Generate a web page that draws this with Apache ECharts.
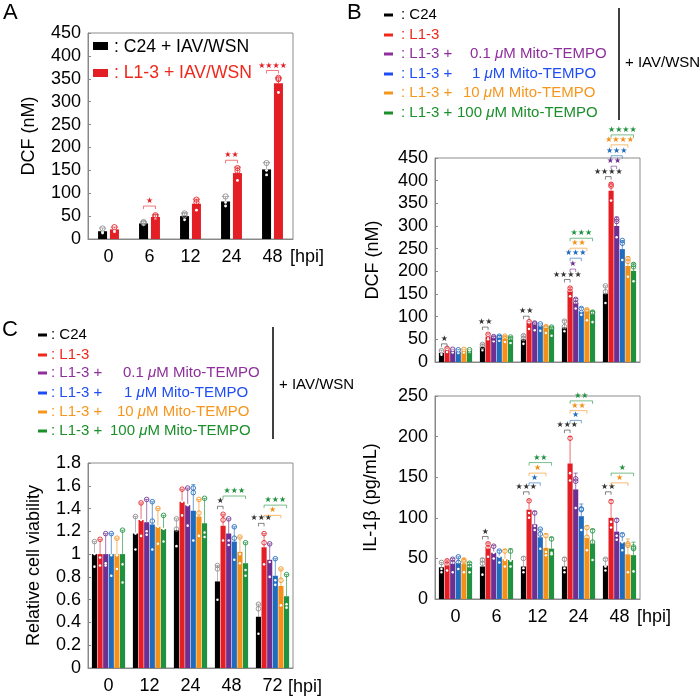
<!DOCTYPE html>
<html lang="en">
<head>
<meta charset="UTF-8">
<title>DCF / IL-1β / viability</title>
<style>
  *{margin:0;padding:0;}
  #main{width:700px;height:697px;background:#fff;}
</style>
<script src="https://cdn.jsdelivr.net/npm/echarts/dist/echarts.min.js"></script>
</head>
<body>
<div id="main"></div>
<script>
// categories
var hpiAB = ['0', '6', '12', '24', '48'];
var hpiC = ['0', '12', '24', '48', '72'];

var colA = ['#000000', '#e41e25'];
var col6 = ['#000000', '#e41e25', '#6d2f91', '#1f6cbf', '#f39019', '#1f923f'];
var txt6 = ['#000000', '#f0281c', '#8e2f9c', '#1f4df5', '#f7961d', '#1a8f2a'];

// panel A : DCF (nM), rows = C24, L1-3
var aMean = [[17, 34, 50, 82, 152], [21, 48, 77, 144, 340]];
var aTop = [[24, 38, 57, 93, 167], [26, 53, 87, 157, 352]];
var aReps = [
  [[13, 16, 23], [31, 35, 37], [42, 52, 56], [72, 80, 93], [140, 150, 166]],
  [[16, 20, 26], [45, 49, 52], [63, 80, 86], [128, 149, 155], [320, 349, 352]]
];
// [hpi index, from group, to group, bracket height, stars, colour index]
var aSig = [[1, 0, 1, 72, 1, 1], [3, 0, 1, 172, 2, 1], [4, 0, 1, 368, 4, 1]];

// panel B top : DCF (nM), rows = C24, L1-3, +0.1, +1, +10, +100 uM Mito-TEMPO
var dcfMean = [
  [20, 33, 50, 76, 151],
  [26, 56, 86, 155, 378],
  [25, 52, 82, 129, 300],
  [23, 53, 80, 112, 249],
  [24, 51, 75, 111, 212],
  [25, 49, 72, 105, 201]
];
var dcfTop = [
  [26, 40, 60, 92, 168],
  [31, 62, 90, 165, 395],
  [28, 56, 86, 140, 320],
  [27, 58, 84, 120, 268],
  [28, 58, 78, 117, 232],
  [27, 56, 76, 112, 218]
];
var dcfReps = [
  [[16, 20, 25], [26, 34, 39], [40, 52, 58], [68, 78, 90], [130, 155, 168]],
  [[22, 26, 30], [50, 56, 61], [73, 86, 89], [145, 156, 163], [356, 388, 392]],
  [[21, 25, 28], [46, 53, 56], [70, 84, 86], [118, 130, 138], [275, 310, 315]],
  [[20, 23, 27], [47, 54, 57], [69, 80, 84], [104, 112, 118], [225, 262, 268]],
  [[21, 24, 28], [44, 52, 57], [64, 76, 78], [92, 112, 115], [188, 222, 228]],
  [[22, 25, 27], [42, 50, 55], [58, 74, 77], [88, 108, 110], [178, 210, 215]]
];
var dcfSig = [
  [0, 0, 1, 40, 1, 0], [1, 0, 1, 77, 2, 0], [2, 0, 1, 101, 2, 0],
  [3, 0, 1, 182, 4, 0], [3, 1, 2, 205, 1, 2], [3, 1, 3, 229, 3, 3], [3, 1, 4, 251, 2, 4], [3, 1, 5, 273, 3, 5],
  [4, 0, 1, 409, 4, 0], [4, 1, 2, 432, 2, 2], [4, 1, 3, 455, 3, 3], [4, 1, 4, 479, 4, 4], [4, 1, 5, 501, 4, 5]
];

// panel B bottom : IL-1β (pg/mL)
var ilMean = [
  [39, 40, 40, 40, 41],
  [41, 62, 110, 167, 100],
  [43, 57, 92, 135, 83],
  [44, 52, 76, 102, 70],
  [43, 49, 63, 75, 55],
  [39, 48, 62, 68, 54]
];
var ilTop = [
  [45, 50, 52, 51, 50],
  [48, 69, 122, 200, 122],
  [50, 66, 108, 155, 99],
  [52, 60, 86, 117, 81],
  [50, 61, 80, 90, 74],
  [45, 62, 76, 86, 70]
];
var ilReps = [
  [[33, 37, 45], [30, 44, 48], [33, 38, 50], [33, 38, 49], [35, 40, 49]],
  [[35, 43, 47], [52, 63, 68], [100, 106, 121], [146, 155, 198], [88, 95, 120]],
  [[33, 45, 49], [50, 57, 65], [85, 90, 106], [112, 145, 148], [73, 78, 97]],
  [[37, 45, 52], [45, 52, 59], [62, 80, 86], [85, 110, 111], [60, 70, 79]],
  [[33, 46, 48], [40, 48, 59], [54, 58, 78], [60, 76, 88], [33, 66, 68]],
  [[33, 40, 44], [40, 47, 59], [55, 57, 74], [48, 70, 84], [34, 62, 64]]
];
var ilSig = [
  [1, 0, 1, 77, 1, 0],
  [2, 0, 1, 132, 3, 0], [2, 1, 3, 143, 1, 3], [2, 1, 4, 155, 1, 4], [2, 1, 5, 168, 2, 5],
  [3, 0, 1, 208, 3, 0], [3, 1, 3, 220, 1, 3], [3, 1, 4, 232, 2, 4], [3, 1, 5, 244, 2, 5],
  [4, 0, 1, 132, 2, 0], [4, 1, 4, 143, 1, 4], [4, 1, 5, 155, 1, 5]
];

// panel C : relative cell viability
var cvMean = [
  [1.00, 1.18, 1.21, 0.76, 0.45],
  [1.00, 1.30, 1.46, 1.25, 1.06],
  [1.00, 1.28, 1.43, 1.18, 0.95],
  [1.00, 1.26, 1.38, 1.11, 0.81],
  [1.00, 1.24, 1.33, 1.02, 0.72],
  [1.00, 1.22, 1.27, 0.92, 0.63]
];
var cvTop = [
  [1.11, 1.33, 1.31, 0.90, 0.56],
  [1.13, 1.45, 1.57, 1.35, 1.18],
  [1.18, 1.48, 1.58, 1.31, 1.09],
  [1.18, 1.46, 1.61, 1.24, 0.96],
  [1.14, 1.40, 1.48, 1.15, 0.87],
  [1.21, 1.34, 1.49, 1.10, 0.82]
];
var cvReps = [
  [[0.89, 1.00, 1.11], [1.04, 1.18, 1.33], [1.07, 1.22, 1.31], [0.60, 0.87, 0.90], [0.30, 0.52, 0.56]],
  [[0.90, 0.97, 1.13], [1.16, 1.30, 1.45], [1.34, 1.46, 1.57], [1.12, 1.30, 1.35], [0.91, 1.10, 1.18]],
  [[0.90, 0.92, 1.18], [1.17, 1.20, 1.48], [1.25, 1.43, 1.58], [1.08, 1.12, 1.31], [0.80, 0.93, 1.09]],
  [[0.81, 0.99, 1.18], [1.04, 1.29, 1.46], [1.12, 1.54, 1.58], [0.95, 1.14, 1.24], [0.73, 0.77, 0.96]],
  [[0.87, 0.99, 1.14], [1.09, 1.24, 1.40], [1.16, 1.36, 1.48], [0.92, 1.00, 1.15], [0.55, 0.77, 0.87]],
  [[0.75, 0.91, 1.21], [1.11, 1.22, 1.34], [1.15, 1.19, 1.49], [0.81, 0.86, 1.10], [0.53, 0.56, 0.82]]
];
var cvSig = [
  [3, 0, 1, 1.42, 1, 0], [3, 1, 5, 1.51, 3, 5],
  [4, 0, 1, 1.27, 3, 0], [4, 1, 4, 1.34, 1, 4], [4, 1, 5, 1.43, 3, 5]
];

// legend text
var legendMain = [': C24', ': L1-3', ': L1-3 +', ': L1-3 +', ': L1-3 +', ': L1-3 +'];
var legendDose = ['', '', '0.1', '1', '10', '100'];

var FONT = 'Liberation Sans';
var chart = echarts.init(document.getElementById('main'));

function barItem(n, s, fw, fg, color) {
  return function (params, api) {
    var cat = api.value(0);
    var base = api.coord([cat, 0]);
    var band = api.size([1, 0])[0];
    var w = band * fw, step = band * (fw + fg);
    var x = base[0] + (s - (n - 1) / 2) * step;
    var mean = api.value(1);
    var yMean = api.coord([cat, mean])[1];
    var yTop = api.coord([cat, api.value(2)])[1];
    var cap = w * 0.4;
    var lineCol = s === 0 ? '#8a8a8a' : color;
    var kids = [
      {type: 'line', shape: {x1: x, y1: yMean, x2: x, y2: yTop}, style: {stroke: lineCol, lineWidth: 1, opacity: 0.65}},
      {type: 'line', shape: {x1: x - cap, y1: yTop, x2: x + cap, y2: yTop}, style: {stroke: lineCol, lineWidth: 1, opacity: 0.65}},
      {type: 'rect', shape: {x: x - w / 2, y: yMean, width: w, height: base[1] - yMean}, style: {fill: color}}
    ];
    var r = Math.min(2.6, w * 0.45);
    for (var k = 3; k < 6; k++) {
      var v = api.value(k);
      var py = api.coord([cat, v])[1];
      if (v > mean) {
        kids.push({type: 'circle', shape: {cx: x, cy: py, r: r}, style: {fill: 'none', stroke: lineCol, lineWidth: 1, opacity: 0.85}});
      } else {
        kids.push({type: 'circle', shape: {cx: x, cy: py, r: r * 0.55}, style: {fill: '#ffffff'}});
      }
    }
    return {type: 'group', children: kids};
  };
}

function sigItem(n, fw, fg, colors) {
  return function (params, api) {
    var cat = api.value(0);
    var c0 = api.coord([cat, 0])[0];
    var band = api.size([1, 0])[0];
    var step = band * (fw + fg);
    var xa = c0 + (api.value(1) - (n - 1) / 2) * step;
    var xb = c0 + (api.value(2) - (n - 1) / 2) * step;
    var y = api.coord([cat, api.value(3)])[1];
    var col = colors[api.value(5)];
    if (col === '#000000') col = '#333333';
    var stars = new Array(api.value(4) + 1).join('\u2605');
    return {type: 'group', children: [
      {type: 'polyline', shape: {points: [[xa, y + 3], [xa, y], [xb, y], [xb, y + 3]]},
        style: {stroke: col, fill: null, lineWidth: 1, opacity: 0.6}},
      {type: 'text', x: (xa + xb) / 2, y: y - 1,
        style: {text: stars, fill: col, font: '8px "DejaVu Sans"', align: 'center', verticalAlign: 'bottom'}}
    ]};
  };
}

var series = [];
function addPanel(g, means, tops, reps, colors, fw, fg, sig) {
  var n = means.length;
  means.forEach(function (row, s) {
    var data = row.map(function (m, c) { return [c, m, tops[s][c]].concat(reps[s][c]); });
    series.push({type: 'custom', xAxisIndex: g, yAxisIndex: g, renderItem: barItem(n, s, fw, fg, colors[s]), data: data, z: 2});
  });
  series.push({type: 'custom', xAxisIndex: g, yAxisIndex: g, renderItem: sigItem(n, fw, fg, colors), data: sig, z: 3, clip: false});
}
addPanel(0, aMean, aTop, aReps, colA, 0.22, 0.07, aSig);
addPanel(1, dcfMean, dcfTop, dcfReps, col6, 0.125, 0.012, dcfSig);
addPanel(2, ilMean, ilTop, ilReps, col6, 0.125, 0.012, ilSig);
addPanel(3, cvMean, cvTop, cvReps, col6, 0.125, 0.012, cvSig);

function xAx(g, cats, showLabel) {
  return {
    type: 'category', gridIndex: g, data: cats,
    axisLine: {lineStyle: {color: '#888'}},
    axisTick: {inside: true, length: 3, lineStyle: {color: '#888'}},
    axisLabel: {show: showLabel, fontSize: 18, color: '#000', margin: 9, fontFamily: FONT}
  };
}
function yAx(g, max, step, name, gap) {
  return {
    type: 'value', gridIndex: g, min: 0, max: max, interval: step,
    name: name, nameLocation: 'middle', nameGap: gap,
    nameTextStyle: {fontSize: 18, color: '#000', fontFamily: FONT},
    axisLine: {show: true, lineStyle: {color: '#888'}},
    axisTick: {show: true, inside: true, length: 3, lineStyle: {color: '#888'}},
    splitLine: {show: false},
    axisLabel: {fontSize: 18, color: '#000', margin: 7, fontFamily: FONT}
  };
}

function txt(x, y, s, color, size) {
  return {type: 'text', x: x, y: y, style: {text: s, fill: color, font: (size || 15) + 'px "' + FONT + '"', verticalAlign: 'middle'}};
}
var graphics = [
  txt(3, 13, 'A', '#000', 22), txt(347, 13, 'B', '#000', 22), txt(2, 330, 'C', '#000', 22),
  {type: 'rect', shape: {x: 93, y: 42, width: 15, height: 8}, style: {fill: colA[0]}},
  {type: 'rect', shape: {x: 93, y: 69, width: 15, height: 8}, style: {fill: colA[1]}},
  txt(114, 47, ': C24 + IAV/WSN', '#000', 17.6),
  txt(114, 73, ': L1-3 + IAV/WSN', '#f0281c', 17.6),
  txt(290, 257, '[hpi]', '#000', 18),
  txt(637, 617, '[hpi]', '#000', 18),
  txt(288, 687, '[hpi]', '#000', 18)
];
function legendBlock(dashX, textX, doseX, rows, lineX, lineY0, lineY1, tagY) {
  rows.forEach(function (y, i) {
    graphics.push({type: 'rect', shape: {x: dashX, y: y - 1.5, width: 9, height: 3}, style: {fill: txt6[i]}});
    graphics.push(txt(textX, y, legendMain[i], txt6[i], 15));
    if (legendDose[i]) {
      var t = txt(doseX[i], y, legendDose[i] + ' {i|\u03bc}M Mito-TEMPO', txt6[i], 15);
      t.style.rich = {i: {fontStyle: 'italic', fontFamily: FONT, fontSize: 15, fill: txt6[i]}};
      graphics.push(t);
    }
  });
  graphics.push({type: 'line', shape: {x1: lineX, y1: lineY0, x2: lineX, y2: lineY1}, style: {stroke: '#000', lineWidth: 1.5}});
  graphics.push(txt(lineX + 6, tagY, '+ IAV/WSN', '#000', 15));
}
legendBlock(384, 401, [0, 0, 470, 472, 463, 457], [15, 35, 54, 74, 93, 113], 619, 8, 120, 63);
legendBlock(38, 51, [0, 0, 123, 124, 117, 110], [335, 355, 373, 393, 412, 431], 273, 327, 439, 385);

var option = {
  animation: false,
  textStyle: {fontFamily: FONT},
  grid: [
    {left: 88, top: 33, width: 205, height: 206, show: true, borderColor: '#8c8c8c', borderWidth: 1},
    {left: 435, top: 158, width: 205, height: 204, show: true, borderColor: '#8c8c8c', borderWidth: 1},
    {left: 435, top: 396, width: 205, height: 203, show: true, borderColor: '#8c8c8c', borderWidth: 1},
    {left: 88, top: 463, width: 205, height: 205, show: true, borderColor: '#8c8c8c', borderWidth: 1}
  ],
  xAxis: [xAx(0, hpiAB, true), xAx(1, hpiAB, false), xAx(2, hpiAB, true), xAx(3, hpiC, true)],
  yAxis: [
    yAx(0, 450, 50, 'DCF (nM)', 50),
    yAx(1, 450, 50, 'DCF (nM)', 53),
    yAx(2, 250, 50, 'IL-1\u03b2 (pg/mL)', 55),
    yAx(3, 1.8, 0.2, 'Relative cell viability', 45)
  ],
  graphic: graphics,
  series: series
};
chart.setOption(option);
</script>
</body>
</html>
